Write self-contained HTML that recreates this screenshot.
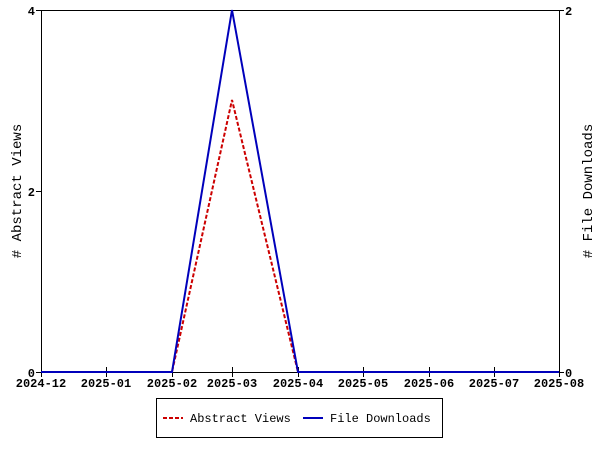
<!DOCTYPE html>
<html><head><meta charset="utf-8"><style>
html,body{margin:0;padding:0;background:#fff}
svg text{font-family:"Liberation Mono","DejaVu Sans Mono",monospace;font-weight:bold;font-size:12px;fill:#000}
</style></head><body>
<svg width="600" height="450" viewBox="0 0 600 450" xmlns="http://www.w3.org/2000/svg" shape-rendering="crispEdges">
<rect x="41.5" y="10.5" width="518" height="362" fill="none" stroke="#000" stroke-width="1"/>
<g stroke="#000" stroke-width="1">
<line x1="36" y1="10.5" x2="41" y2="10.5"/>
<line x1="36" y1="191.5" x2="41" y2="191.5"/>
<line x1="36" y1="372.5" x2="41" y2="372.5"/>
<line x1="559" y1="10.5" x2="564" y2="10.5"/>
<line x1="559" y1="372.5" x2="564" y2="372.5"/>
<line x1="41.5" y1="367" x2="41.5" y2="377"/>
<line x1="106.5" y1="367" x2="106.5" y2="377"/>
<line x1="172.5" y1="367" x2="172.5" y2="377"/>
<line x1="232.5" y1="367" x2="232.5" y2="377"/>
<line x1="298.5" y1="367" x2="298.5" y2="377"/>
<line x1="363.5" y1="367" x2="363.5" y2="377"/>
<line x1="429.5" y1="367" x2="429.5" y2="377"/>
<line x1="494.5" y1="367" x2="494.5" y2="377"/>
<line x1="559.5" y1="367" x2="559.5" y2="377"/>
</g>
<text x="35" y="15" text-anchor="end">4</text>
<text x="35" y="196" text-anchor="end">2</text>
<text x="35" y="377" text-anchor="end">0</text>
<text x="565" y="15">2</text>
<text x="565" y="377">0</text>
<g text-anchor="middle">
<text x="41" y="387">2024-12</text>
<text x="106" y="387">2025-01</text>
<text x="172" y="387">2025-02</text>
<text x="232" y="387">2025-03</text>
<text x="298" y="387">2025-04</text>
<text x="363" y="387">2025-05</text>
<text x="429" y="387">2025-06</text>
<text x="494" y="387">2025-07</text>
<text x="559" y="387">2025-08</text>
</g>
<text transform="translate(21,191) rotate(-90)" text-anchor="middle" style="font-weight:normal;font-size:14px"># Abstract Views</text>
<text transform="translate(592,191) rotate(-90)" text-anchor="middle" style="font-weight:normal;font-size:14px"># File Downloads</text>
<g shape-rendering="auto">
<polyline points="41,372 172,372 232,100 298,372 559,372" fill="none" stroke="#cc0000" stroke-width="2" stroke-dasharray="4,2"/>
<polyline points="41,372 172,372 232,10 298,372 559,372" fill="none" stroke="#0000bb" stroke-width="2"/>
</g>
<rect x="156.5" y="398.5" width="286" height="39" fill="#fff" stroke="#000"/>
<line x1="163" y1="418" x2="183" y2="418" stroke="#cc0000" stroke-width="2" stroke-dasharray="4,2"/>
<text x="190" y="422" style="font-weight:normal">Abstract Views</text>
<line x1="303" y1="418" x2="323" y2="418" stroke="#0000bb" stroke-width="2"/>
<text x="330" y="422" style="font-weight:normal">File Downloads</text>
</svg>
</body></html>
